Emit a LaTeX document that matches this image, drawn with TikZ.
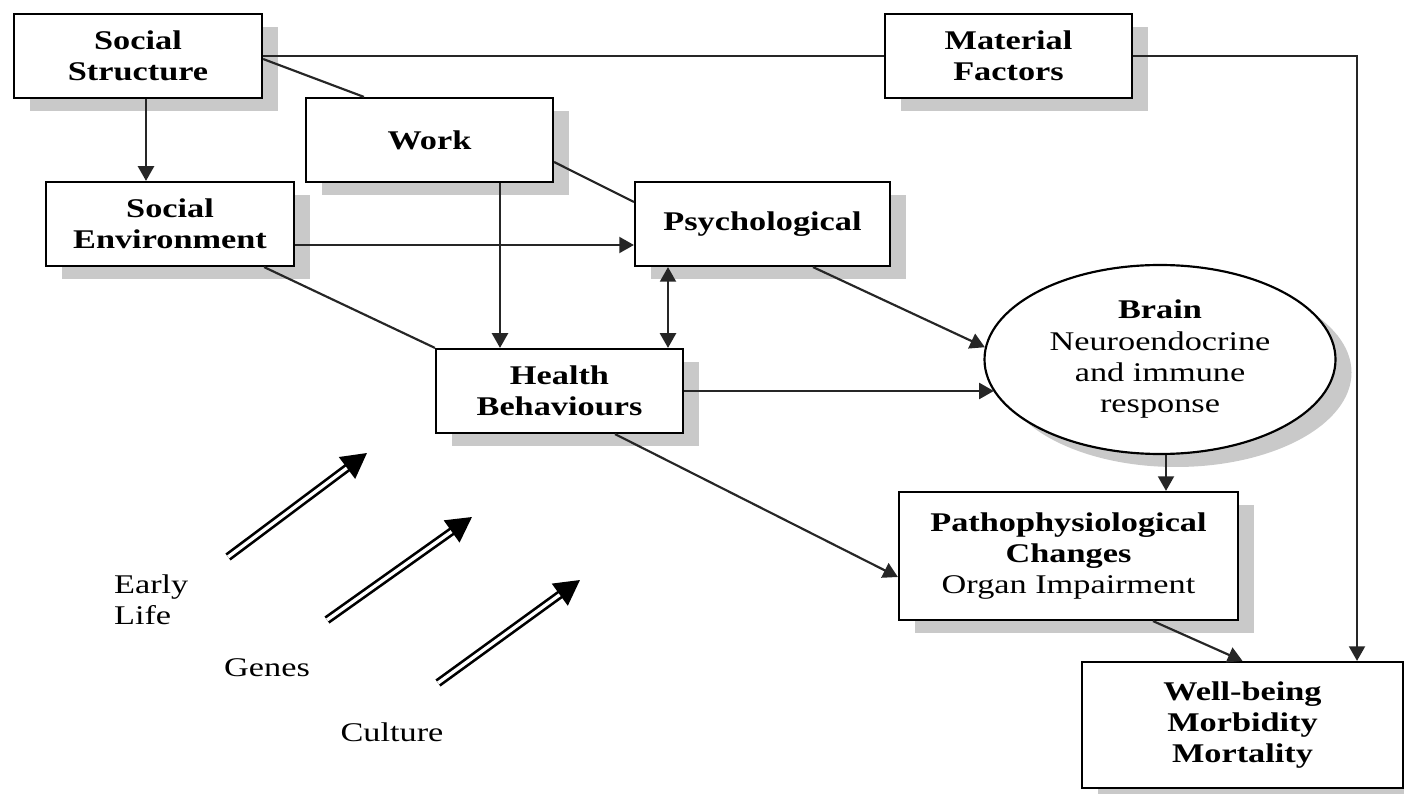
\documentclass[tikz,border=0pt]{standalone}
\usepackage{fontspec}
\setmainfont{Liberation Serif}[FakeStretch=1.27]
\usetikzlibrary{arrows.meta,shadows,shapes.geometric}

\begin{document}
\begin{tikzpicture}[x=0.3pt,y=-0.3pt,line width=0.65pt,
	>={Triangle[length=4.4pt,width=4.8pt]},
	font=\fontsize{8.1}{9.4}\selectfont,
	box/.style={draw,fill=white,align=center,inner sep=0pt,
		drop shadow={shadow xshift=4.8pt,shadow yshift=-3.9pt,fill=black!21,opacity=1}},
	link/.style={draw=black!85},
	push/.style={double=white,double distance=1pt,line width=0.8pt,
		-{Triangle[length=7.5pt,width=8pt]}}]
	\useasboundingbox (0,0) rectangle (1404,794);
	% boxes
	\node[box,minimum width=74.4pt,minimum height=25.2pt] (sstruct) at (138,56)
		{\textbf{Social}\\\textbf{Structure}};
	\node[box,minimum width=74.1pt,minimum height=25.2pt] (mat) at (1008.5,56)
		{\textbf{Material}\\\textbf{Factors}};
	\node[box,minimum width=74.1pt,minimum height=25.2pt] (work) at (429.5,140)
		{\textbf{Work}};
	\node[box,minimum width=74.4pt,minimum height=25.2pt] (senv) at (170,224)
		{\textbf{Social}\\\textbf{Environment}};
	\node[box,minimum width=76.5pt,minimum height=25.2pt] (psych) at (762.5,224)
		{\textbf{Psychological}};
	\node[box,minimum width=74.1pt,minimum height=25.2pt] (hb) at (559.5,391)
		{\textbf{Health}\\\textbf{Behaviours}};
	\node[box,ellipse,minimum width=105.3pt,minimum height=56.7pt] (brain) at (1160,359.5)
		{\textbf{Brain}\\Neuroendocrine\\and immune\\response};
	\node[box,minimum width=101.7pt,minimum height=38.4pt] (patho) at (1068.5,556)
		{\textbf{Pathophysiological}\\\textbf{Changes}\\Organ Impairment};
	\node[box,minimum width=96.3pt,minimum height=37.8pt] (wb) at (1242.5,725)
		{\textbf{Well-being}\\\textbf{Morbidity}\\\textbf{Mortality}};
	% links
	\draw[link,->] ([xshift=2.4pt]sstruct.south) -- ([xshift=2.4pt]sstruct.south |- senv.north);
	\draw[link] (sstruct.east) -- (mat.west);
	\draw[link] ([yshift=-0.9pt]sstruct.east) -- ([xshift=17.7pt]work.north west);
	\draw[link,->] (mat.east) -| ([xshift=34.35pt]wb.north);
	\draw[link,->] ([yshift=-6.3pt]senv.east) -- ([yshift=-6.3pt]psych.west);
	\draw[link] ([yshift=-6.6pt]work.east) -- ([yshift=6.6pt]psych.west);
	\draw[link,->] ([xshift=21.15pt]work.south) -- ([xshift=21.15pt]work.south |- hb.north);
	\draw[link] ([xshift=-9.3pt]senv.south east) -- (hb.north west);
	\draw[link,<->] ([xshift=-28.35pt]psych.south) -- ([xshift=-28.35pt]psych.south |- hb.north);
	\draw[link,->] ([xshift=15.15pt]psych.south) -- (brain.176);
	\draw[link,->] (hb.east) -- (hb.east -| brain.191);
	\draw[link,->] ([xshift=16.65pt]hb.south) -- ([yshift=-6.3pt]patho.west);
	\draw[link,->] ([xshift=1.8pt]brain.south) -- ([xshift=1.8pt]brain.south |- patho.north);
	\draw[link,->] ([xshift=25.35pt]patho.south) -- (wb.north);
	% early influences
	\node[align=left,anchor=west,inner sep=0pt] (early) at (113,600) {Early\\Life};
	\node (genes) at (267,668) {Genes};
	\node (culture) at (392,732) {Culture};
	\coordinate (e1) at (228,557);
	\coordinate (e2) at (367,453);
	\coordinate (g1) at (327,620);
	\coordinate (g2) at (472,517);
	\coordinate (c1) at (438,683);
	\coordinate (c2) at (580,580);
	\draw[push] (e1) -- (e2);
	\draw[push] (g1) -- (g2);
	\draw[push] (c1) -- (c2);
\end{tikzpicture}
\end{document}
